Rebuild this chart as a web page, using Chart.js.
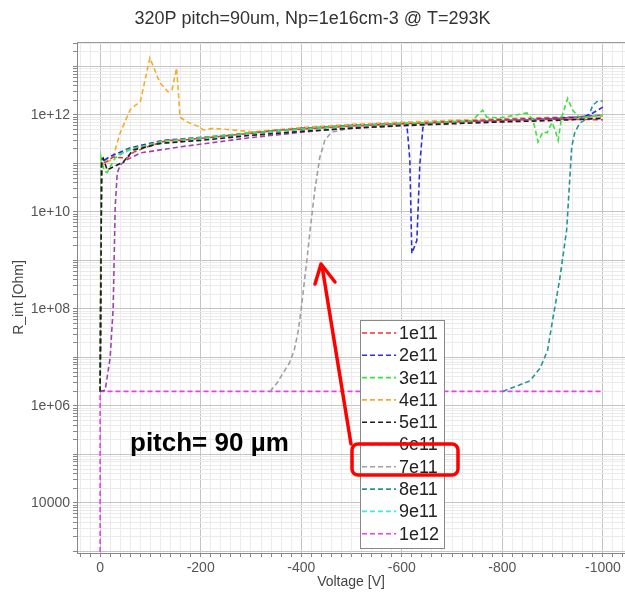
<!DOCTYPE html>
<html>
<head>
<meta charset="utf-8">
<script src="https://cdn.jsdelivr.net/npm/chart.js@4.4.1/dist/chart.umd.min.js"></script>
<style>
  html, body { margin: 0; padding: 0; background: #fff; }
</style>
</head>
<body>
<canvas id="myChart" width="625" height="595"></canvas>
<script>
// Voltage [V] / R_int [Ohm] per fluence
const v_1e11 = [0, -3, -10, -26, -54, -66, -93, -133, -159, -225, -300, -358, -400, -500, -600, -700, -800, -900, -1000];
const r_1e11 = [2e6, 1.1e11, 1.05e11, 1.35e11, 1.3e11, 1.7e11, 2.2e11, 3.0e11, 3.0e11, 3.5e11, 4.2e11, 4.9e11, 5.1e11, 5.9e11, 6.6e11, 7.2e11, 7.8e11, 8.2e11, 8.0e11];

const v_2e11 = [0, -3, -10, -20, -60, -125, -160, -225, -292, -400, -500, -600, -610, -616, -620, -630, -636, -642, -650, -700, -800, -900, -960, -980, -1000];
const r_2e11 = [2e6, 1.0e11, 1.2e11, 1.4e11, 2.1e11, 3.0e11, 3.2e11, 3.6e11, 4.2e11, 5.3e11, 6.1e11, 6.7e11, 6.7e11, 1.2e11, 1.4e9, 2.6e9, 1.0e11, 5.5e11, 6.9e11, 7.3e11, 8.0e11, 8.6e11, 9.0e11, 1.1e12, 1.45e12];

const v_3e11 = [0, -2, -8, -14, -30, -54, -113, -125, -200, -300, -400, -500, -600, -700, -740, -755, -761, -769, -795, -849, -861, -871, -881, -889, -899, -905, -911, -918, -930, -940, -954, -1000];
const r_3e11 = [2e6, 1.3e11, 7e10, 6.5e10, 1.3e11, 1.9e11, 2.7e11, 2.9e11, 3.4e11, 4.3e11, 5.2e11, 6.0e11, 6.7e11, 7.3e11, 7.6e11, 1.1e12, 1.25e12, 9e11, 8.7e11, 1.1e12, 8e11, 2.8e11, 4.5e11, 4.3e11, 7e11, 4.9e11, 3e11, 9e11, 2.2e12, 1.25e12, 8.7e11, 1.0e12];

const v_4e11 = [0, -2, -6, -24, -40, -60, -80, -99, -119, -135, -143, -152, -154, -159, -173, -199, -205, -225, -264, -304, -400, -500, -600, -700, -800, -900, -1000];
const r_4e11 = [2e6, 8e10, 1.0e11, 1.2e11, 4.3e11, 1.3e12, 1.9e12, 1.5e13, 4.6e12, 3.0e12, 3.3e12, 9.3e12, 5e12, 9e11, 7.2e11, 5.6e11, 4.9e11, 5.3e11, 4.9e11, 4.5e11, 5.5e11, 6.4e11, 7.1e11, 7.8e11, 8.4e11, 9.0e11, 9.5e11];

const v_5e11 = [0, -3, -6, -14, -26, -46, -66, -93, -119, -200, -300, -400, -500, -600, -700, -800, -900, -1000];
const r_5e11 = [2e6, 1.2e11, 1.3e11, 7.4e10, 8.5e10, 1.07e11, 1.9e11, 2.2e11, 2.6e11, 3.0e11, 3.8e11, 4.6e11, 5.3e11, 6.0e11, 6.6e11, 7.2e11, 7.7e11, 8.5e11];

const v_6e11 = [0, -10, -20, -26, -28, -30, -34, -40, -54, -80, -159, -298, -400, -497, -600, -696, -800, -895, -1000];
const r_6e11 = [2e6, 2.1e6, 1e7, 1.1e8, 1.2e9, 1.3e10, 6.3e10, 9.4e10, 1.2e11, 1.65e11, 2.2e11, 3.4e11, 4.4e11, 5.4e11, 6.2e11, 7.0e11, 7.6e11, 8.3e11, 1.0e12];

const v_7e11 = [-338, -352, -364, -376, -386, -394, -400, -406, -412, -418, -427, -437, -447, -460, -500, -600, -700, -800, -900, -1000];
const r_7e11 = [2e6, 3e6, 4.8e6, 7.5e6, 1.4e7, 3.5e7, 1.0e8, 3.5e8, 1.2e9, 4.5e9, 2.8e10, 1.35e11, 3.0e11, 4.4e11, 5.4e11, 6.4e11, 7.1e11, 7.7e11, 8.2e11, 8.8e11];

const v_8e11 = [-801, -830, -855, -875, -890, -900, -914, -928, -938, -944, -954, -970, -980, -990, -1000];
const r_8e11 = [2e6, 2.6e6, 3.3e6, 6e6, 1.4e7, 5.9e7, 4e8, 4.3e9, 2.2e11, 4.3e11, 6.8e11, 8.5e11, 1.6e12, 1.95e12, 1.95e12];

const v_9e11 = [0, -3, -20, -60, -100, -200, -300, -400, -500, -600, -700, -800, -900, -1000];
const r_9e11 = [2e6, 1.1e11, 1.3e11, 1.9e11, 2.4e11, 3.2e11, 4.1e11, 5.0e11, 5.8e11, 6.5e11, 7.1e11, 7.7e11, 8.2e11, 9.0e11];

const v_1e12 = [0, 0, -1000];
const r_1e12 = [100, 2e6, 2e6];

const seriesNames = ['1e11', '2e11', '3e11', '4e11', '5e11', '6e11', '7e11', '8e11', '9e11', '1e12'];
const seriesV = [v_1e11, v_2e11, v_3e11, v_4e11, v_5e11, v_6e11, v_7e11, v_8e11, v_9e11, v_1e12];
const seriesR = [r_1e11, r_2e11, r_3e11, r_4e11, r_5e11, r_6e11, r_7e11, r_8e11, r_9e11, r_1e12];

// styles
const seriesColors = ['#ee3535', '#2d2de0', '#3ee03e', '#f5ac2a', '#1e1e1e', '#a040b0', '#a0a0a0', '#2a9494', '#3ee6ee', '#ee3cee'];
const drawOrder = [3, 4, 2, 5, 1, 6, 7, 8, 9, 10];

const fontFamily = "'Liberation Sans', Arial, sans-serif";

const datasets = seriesNames.map((name, i) => ({
  label: name,
  data: seriesV[i].map((v, j) => ({ x: v, y: seriesR[i][j] })),
  borderColor: seriesColors[i],
  backgroundColor: seriesColors[i],
  borderWidth: 1.6,
  borderDash: [5, 3],
  pointRadius: 0,
  tension: 0,
  order: drawOrder[i]
}));

function yLabel(v) {
  const e = Math.round(Math.log10(v));
  if (Math.abs(v - Math.pow(10, e)) > v * 1e-6) return '';
  if (e % 2 !== 0 || e < 4) return '';
  if (e === 4) return '10000';
  return '1e+' + String(e).padStart(2, '0');
}

// legend box, annotation text and the red marks
const overlay = {
  id: 'overlay',
  afterDraw(chart) {
    const ctx = chart.ctx;
    const a = chart.chartArea;
    ctx.save();

    // top frame line
    ctx.strokeStyle = '#999';
    ctx.lineWidth = 1;
    ctx.beginPath();
    ctx.moveTo(a.left, a.top + 0.5);
    ctx.lineTo(a.right, a.top + 0.5);
    ctx.stroke();

    // legend
    const lx = 360, ly = 320, lw = 84, lh = 228;
    ctx.fillStyle = '#fff';
    ctx.fillRect(lx, ly, lw, lh);
    ctx.strokeStyle = '#888';
    ctx.strokeRect(lx + 0.5, ly + 0.5, lw, lh);
    ctx.font = '18px ' + fontFamily;
    ctx.textBaseline = 'middle';
    ctx.textAlign = 'left';
    chart.data.datasets.forEach((ds, i) => {
      const y = ly + 13 + i * 22.3;
      ctx.strokeStyle = ds.borderColor;
      ctx.lineWidth = 1.6;
      ctx.setLineDash([5, 3]);
      ctx.beginPath();
      ctx.moveTo(lx + 2, y);
      ctx.lineTo(lx + 36, y);
      ctx.stroke();
      ctx.setLineDash([]);
      ctx.fillStyle = '#222';
      ctx.fillText(ds.label, lx + 39, y + 1);
    });

    // pitch label
    ctx.fillStyle = '#000';
    ctx.font = 'bold 26px ' + fontFamily;
    ctx.textBaseline = 'alphabetic';
    ctx.fillText('pitch= 90 \u00b5m', 130, 451);

    // red box around 7e11 and arrow
    ctx.strokeStyle = '#ff0000';
    ctx.lineWidth = 3.5;
    ctx.lineJoin = 'round';
    ctx.lineCap = 'round';
    ctx.beginPath();
    ctx.roundRect(352, 444, 106, 31, 6);
    ctx.stroke();
    ctx.beginPath();
    ctx.moveTo(351, 444);
    ctx.lineTo(322, 266);
    ctx.stroke();
    ctx.beginPath();
    ctx.moveTo(315, 284);
    ctx.lineTo(321, 264);
    ctx.lineTo(335, 282);
    ctx.stroke();
    ctx.restore();
  }
};

const ctx1 = document.getElementById('myChart').getContext('2d');
const chart1 = new Chart(ctx1, {
  type: 'line',
  data: { datasets: datasets },
  options: {
    responsive: false,
    animation: false,
    devicePixelRatio: 1,
    layout: { padding: 0 },
    plugins: {
      legend: { display: false },
      tooltip: { enabled: false },
      title: {
        display: true,
        text: '320P pitch=90um, Np=1e16cm-3 @ T=293K',
        color: '#333',
        font: { family: fontFamily, size: 18, weight: 'normal' },
        padding: { top: 8, bottom: 12.4 }
      }
    },
    scales: {
      x: {
        type: 'linear',
        reverse: true,
        min: -1044,
        max: 46,
        afterFit: s => { s.height = 42; },
        afterBuildTicks: s => {
          const t = [];
          for (let v = -1040; v <= 40; v += 20) t.push({ value: v });
          s.ticks = t;
        },
        ticks: {
          autoSkip: false,
          maxRotation: 0,
          padding: 3,
          color: '#555',
          font: { family: fontFamily, size: 14 },
          callback: v => (v % 200 === 0 ? String(v) : '')
        },
        grid: {
          color: c => (c.tick && c.tick.value % 200 === 0 ? '#c4c4c4' : '#ebebeb'),
          tickColor: '#888',
          tickLength: 4
        },
        border: { color: '#888' },
        title: {
          display: true,
          text: 'Voltage [V]',
          color: '#444',
          font: { family: fontFamily, size: 14 },
          padding: { top: 0, bottom: 4 }
        }
      },
      y: {
        type: 'logarithmic',
        min: 930,
        max: 3.2e13,
        afterFit: s => { s.width = 77; },
        afterBuildTicks: s => {
          const t = [];
          for (let e = 2; e <= 13; e++) {
            for (let m = 1; m <= 9; m++) {
              const v = m * Math.pow(10, e);
              if (v >= s.min && v <= s.max) t.push({ value: v });
            }
          }
          s.ticks = t;
        },
        ticks: {
          autoSkip: false,
          padding: 3,
          color: '#555',
          font: { family: fontFamily, size: 14 },
          callback: v => yLabel(v)
        },
        grid: {
          color: c => {
            if (!c.tick) return '#ebebeb';
            const v = c.tick.value;
            const e = Math.round(Math.log10(v));
            return Math.abs(v - Math.pow(10, e)) < v * 1e-6 ? '#c4c4c4' : '#ebebeb';
          },
          tickColor: '#888',
          tickLength: 4
        },
        border: { color: '#888' },
        title: {
          display: true,
          text: 'R_int [Ohm]',
          color: '#444',
          font: { family: fontFamily, size: 14 },
          padding: { top: 11, bottom: 0 }
        }
      }
    }
  },
  plugins: [overlay]
});
</script>
</body>
</html>
